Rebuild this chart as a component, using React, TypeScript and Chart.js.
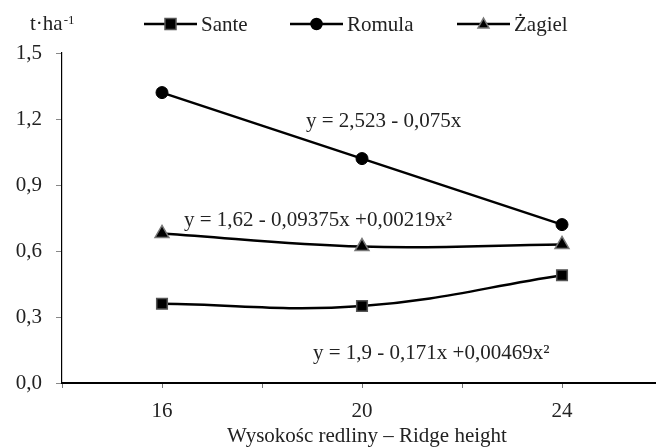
import React, { useEffect, useRef } from "react";
import { Chart, registerables } from "chart.js";

Chart.register(...registerables);

// ---- data ----
const categories = [16, 20, 24];
const xTickValues = [14, 16, 18, 20, 22, 24];
const labeledXTicks = [16, 20, 24];
const yTickValues = [0, 0.3, 0.6, 0.9, 1.2, 1.5];
const seriesNames = ["Sante", "Romula", "Żagiel"];
const santeValues = [0.36, 0.35, 0.49];
const romulaValues = [1.32, 1.02, 0.72];
const zagielValues = [0.68, 0.62, 0.63];
const equationTexts = [
  "y = 2,523 - 0,075x",
  "y = 1,62 - 0,09375x +0,00219x²",
  "y = 1,9 - 0,171x +0,00469x²",
];
const unitMain = "t·ha";
const unitSup = "-1";
const xTitle = "Wysokośc redliny – Ridge height";

const FONT = '"Liberation Serif", "Times New Roman", serif';
const TEXT = "#222";

function drawMarker(ctx: CanvasRenderingContext2D, style: string, x: number, y: number, size: number, border: string) {
  ctx.save();
  ctx.fillStyle = "#000";
  ctx.strokeStyle = border;
  ctx.lineWidth = 1.5;
  ctx.beginPath();
  if (style === "rect") {
    ctx.rect(x - size / 2, y - size / 2, size, size);
  } else if (style === "circle") {
    ctx.arc(x, y, size / 2, 0, Math.PI * 2);
  } else {
    const h = size * 0.9;
    ctx.moveTo(x, y - h * 0.6);
    ctx.lineTo(x + size / 2, y + h * 0.4);
    ctx.lineTo(x - size / 2, y + h * 0.4);
    ctx.closePath();
  }
  ctx.fill();
  ctx.stroke();
  ctx.restore();
}

const overlayPlugin = {
  id: "overlay",
  afterDraw(chart: any) {
    const ctx: CanvasRenderingContext2D = chart.ctx;
    ctx.save();
    ctx.fillStyle = TEXT;
    ctx.textBaseline = "alphabetic";
    ctx.textAlign = "left";

    // unit label
    ctx.font = `21px ${FONT}`;
    ctx.fillText(unitMain, 30, 30);
    const w = ctx.measureText(unitMain).width;
    ctx.font = `13px ${FONT}`;
    ctx.fillText(unitSup, 30 + w + 1, 24);

    // legend
    const legendItems = [
      { x: 144, style: "rect", border: "#555" },
      { x: 290, style: "circle", border: "#000" },
      { x: 457, style: "triangle", border: "#777" },
    ];
    const ly = 24;
    legendItems.forEach((it, i) => {
      ctx.strokeStyle = "#000";
      ctx.lineWidth = 2.5;
      ctx.beginPath();
      ctx.moveTo(it.x, ly);
      ctx.lineTo(it.x + 53, ly);
      ctx.stroke();
      drawMarker(ctx, it.style, it.x + 26.5, ly, 11, it.border);
      ctx.fillStyle = TEXT;
      ctx.font = `21px ${FONT}`;
      ctx.fillText(seriesNames[i], it.x + 57, 31);
    });

    // equations
    ctx.font = `21px ${FONT}`;
    ctx.fillText(equationTexts[0], 306, 127);
    ctx.fillText(equationTexts[1], 184, 226);
    ctx.fillText(equationTexts[2], 313, 359);

    // x title
    ctx.textAlign = "center";
    ctx.fillText(xTitle, 367, 442);
    ctx.restore();
  },
};

export default function App() {
  const canvasRef = useRef<HTMLCanvasElement | null>(null);

  useEffect(() => {
    const canvas = canvasRef.current;
    if (!canvas) return;
    const mk = (vals: number[]) => categories.map((x, i) => ({ x, y: vals[i] }));
    const chart = new Chart(canvas, {
      type: "line",
      data: {
        datasets: [
          {
            label: seriesNames[0],
            data: mk(santeValues),
            borderColor: "#000",
            borderWidth: 2.5,
            tension: 0.4,
            pointStyle: "rect",
            pointRadius: 7.5,
            pointBackgroundColor: "#000",
            pointBorderColor: "#555",
            pointBorderWidth: 1.5,
            clip: false,
          },
          {
            label: seriesNames[1],
            data: mk(romulaValues),
            borderColor: "#000",
            borderWidth: 2.5,
            tension: 0.4,
            pointStyle: "circle",
            pointRadius: 6,
            pointBackgroundColor: "#000",
            pointBorderColor: "#000",
            pointBorderWidth: 1,
            clip: false,
          },
          {
            label: seriesNames[2],
            data: mk(zagielValues),
            borderColor: "#000",
            borderWidth: 2.5,
            tension: 0.4,
            pointStyle: "triangle",
            pointRadius: 8,
            pointBackgroundColor: "#000",
            pointBorderColor: "#777",
            pointBorderWidth: 1.5,
            clip: false,
          },
        ],
      },
      options: {
        animation: false,
        responsive: false,
        devicePixelRatio: 1,
        layout: { autoPadding: false, padding: { top: 53, right: 0, bottom: 0, left: 0 } },
        plugins: {
          legend: { display: false },
          tooltip: { enabled: false },
        },
        scales: {
          x: {
            type: "linear",
            min: 14,
            max: 25.88,
            afterBuildTicks: (scale: any) => {
              scale.ticks = xTickValues.map((v) => ({ value: v }));
            },
            afterFit: (scale: any) => {
              scale.height = 65;
              scale.paddingLeft = 0;
              scale.paddingRight = 0;
            },
            ticks: {
              autoSkip: false,
              maxRotation: 0,
              padding: 11,
              color: TEXT,
              font: { family: FONT, size: 21 },
              callback: (v: any) => (labeledXTicks.includes(Number(v)) ? String(v) : ""),
            },
            grid: { drawOnChartArea: false, drawTicks: true, tickLength: 5, color: "#777", lineWidth: 1 },
            border: { display: true, color: "#000", width: 2 },
          },
          y: {
            type: "linear",
            min: 0,
            max: 1.5,
            afterBuildTicks: (scale: any) => {
              scale.ticks = yTickValues.map((v) => ({ value: v }));
            },
            afterFit: (scale: any) => {
              scale.width = 62;
            },
            ticks: {
              padding: 14,
              color: TEXT,
              font: { family: FONT, size: 21 },
              callback: (v: any) => Number(v).toFixed(1).replace(".", ","),
            },
            grid: { drawOnChartArea: false, drawTicks: true, tickLength: 6, color: "#888", lineWidth: 1 },
            border: { display: true, color: "#000", width: 1.2 },
          },
        },
      },
      plugins: [overlayPlugin],
    } as any);
    return () => chart.destroy();
  }, []);

  return (
    <div style={{ position: "fixed", left: 0, top: 0, width: 656, height: 448, background: "#fff" }}>
      <canvas ref={canvasRef} width={656} height={448} />
    </div>
  );
}
